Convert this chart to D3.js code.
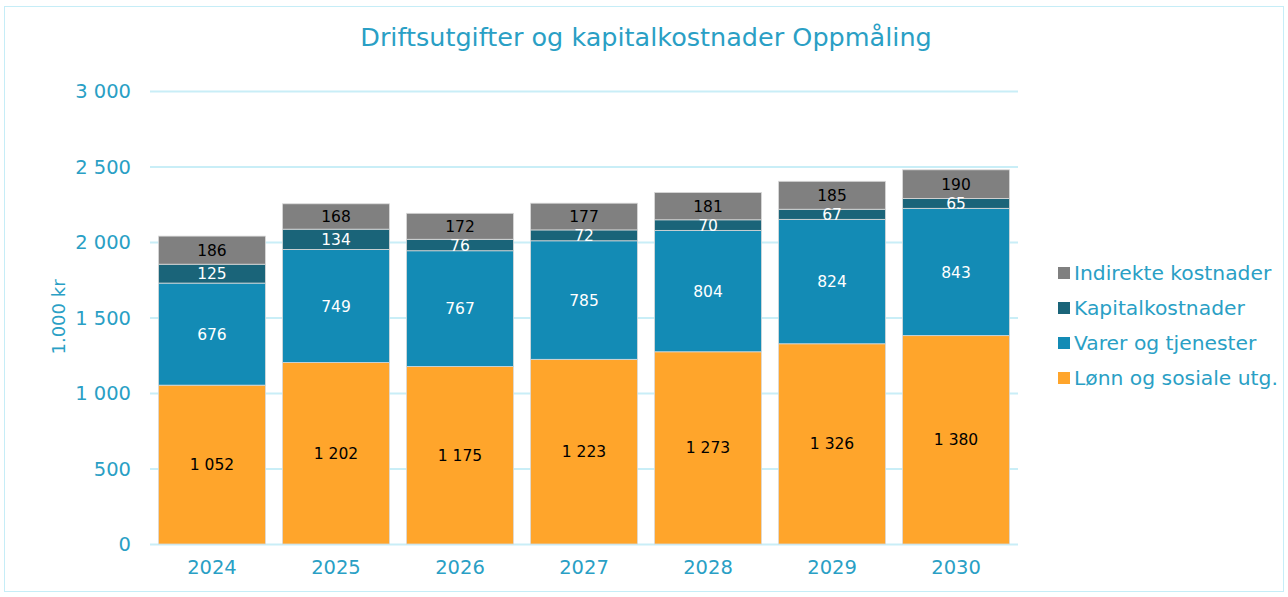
<!DOCTYPE html>
<html><head><meta charset="utf-8">
<script src="https://cdn.jsdelivr.net/npm/d3@7"></script>
<style>body{margin:0;background:#fff}svg{display:block}text{font-family:"DejaVu Sans",Verdana,sans-serif}</style>
</head><body><svg id="c" width="1288" height="597"></svg>
<script>
const years = ["2024","2025","2026","2027","2028","2029","2030"];
const lonn = [1052,1202,1175,1223,1273,1326,1380];
const varer = [676,749,767,785,804,824,843];
const kapital = [125,134,76,72,70,67,65];
const indirekte = [186,168,172,177,181,185,190];
const yTicks = [0,500,1000,1500,2000,2500,3000];
const seriesNames = ["Lønn og sosiale utg.","Varer og tjenester","Kapitalkostnader","Indirekte kostnader"];
const seriesColors = ["#FFA52B","#138BB5","#1A6479","#808080"];
const labelColors = ["#000","#fff","#fff","#000"];
const title = "Driftsutgifter og kapitalkostnader Oppmåling";
const yTitle = "1.000 kr";

const svg = d3.select("#c");
const txt = "#2A9FC5";
svg.append("rect").attr("x",4.5).attr("y",6.5).attr("width",1279).attr("height",585)
  .attr("fill","#fff").attr("stroke","#C6EDF7").attr("stroke-width",1);

const x = d3.scaleBand().domain(years).range([150,1018]).paddingInner(0.137).paddingOuter(0.068);
const y = d3.scaleLinear().domain([0,3000]).range([544,91]);

svg.append("g").selectAll("line").data(yTicks).join("line")
  .attr("x1",150).attr("x2",1018).attr("y1",d=>y(d)+0.5).attr("y2",d=>y(d)+0.5)
  .attr("stroke","#C9EEF7").attr("stroke-width",2);

const fmt = v => d3.format(",")(v).replace(/,/g," ");
const yAxis = d3.axisLeft(y).tickValues(yTicks).tickSize(0).tickPadding(0).tickFormat(fmt);
const ga = svg.append("g").attr("transform","translate(131,0)").call(yAxis);
ga.select(".domain").remove();
ga.selectAll("text").attr("fill",txt).style("font-size","19.5px").style("font-family","DejaVu Sans").attr("dy","0.35em");

const xAxis = d3.axisBottom(x).tickSize(0).tickPadding(0);
const gx = svg.append("g").attr("transform","translate(0,560)").call(xAxis);
gx.select(".domain").remove();
gx.selectAll("text").attr("fill",txt).style("font-size","19.5px").style("font-family","DejaVu Sans").attr("dy","0.71em");

const data = years.map((yr,i)=>({year:yr,s0:lonn[i],s1:varer[i],s2:kapital[i],s3:indirekte[i]}));
const stack = d3.stack().keys(["s0","s1","s2","s3"])(data);

stack.forEach((layer,k)=>{
  const g = svg.append("g");
  g.selectAll("rect").data(layer).join("rect")
    .attr("x",d=>x(d.data.year)).attr("width",x.bandwidth())
    .attr("y",d=>y(d[1])).attr("height",d=>y(d[0])-y(d[1]))
    .attr("fill",seriesColors[k]).attr("stroke","#DADADA").attr("stroke-width",0.8);
});
stack.forEach((layer,k)=>{
  svg.append("g").selectAll("text").data(layer).join("text")
    .attr("x",d=>x(d.data.year)+x.bandwidth()/2)
    .attr("y",d=>(y(d[0])+y(d[1]))/2)
    .attr("dy","0.36em").attr("text-anchor","middle")
    .attr("fill",labelColors[k]).style("font-size","15.5px")
    .text(d=>fmt(d[1]-d[0]));
});

svg.append("text").attr("x",646).attr("y",37).attr("dy","0.35em").attr("text-anchor","middle")
  .attr("fill",txt).style("font-size","25.5px").text(title);

svg.append("text").attr("transform","translate(59,317) rotate(-90)").attr("text-anchor","middle")
  .attr("dy","0.35em").attr("fill",txt).style("font-size","18px").text(yTitle);

const legendOrder = [3,2,1,0];
const lg = svg.append("g");
legendOrder.forEach((k,i)=>{
  const yy = 273 + i*35;
  lg.append("rect").attr("x",1058).attr("y",yy-6).attr("width",12).attr("height",12).attr("fill",seriesColors[k]);
  lg.append("text").attr("x",1074).attr("y",yy).attr("dy","0.35em").attr("fill",txt)
    .style("font-size","20.3px").text(seriesNames[k]);
});
</script></body></html>
